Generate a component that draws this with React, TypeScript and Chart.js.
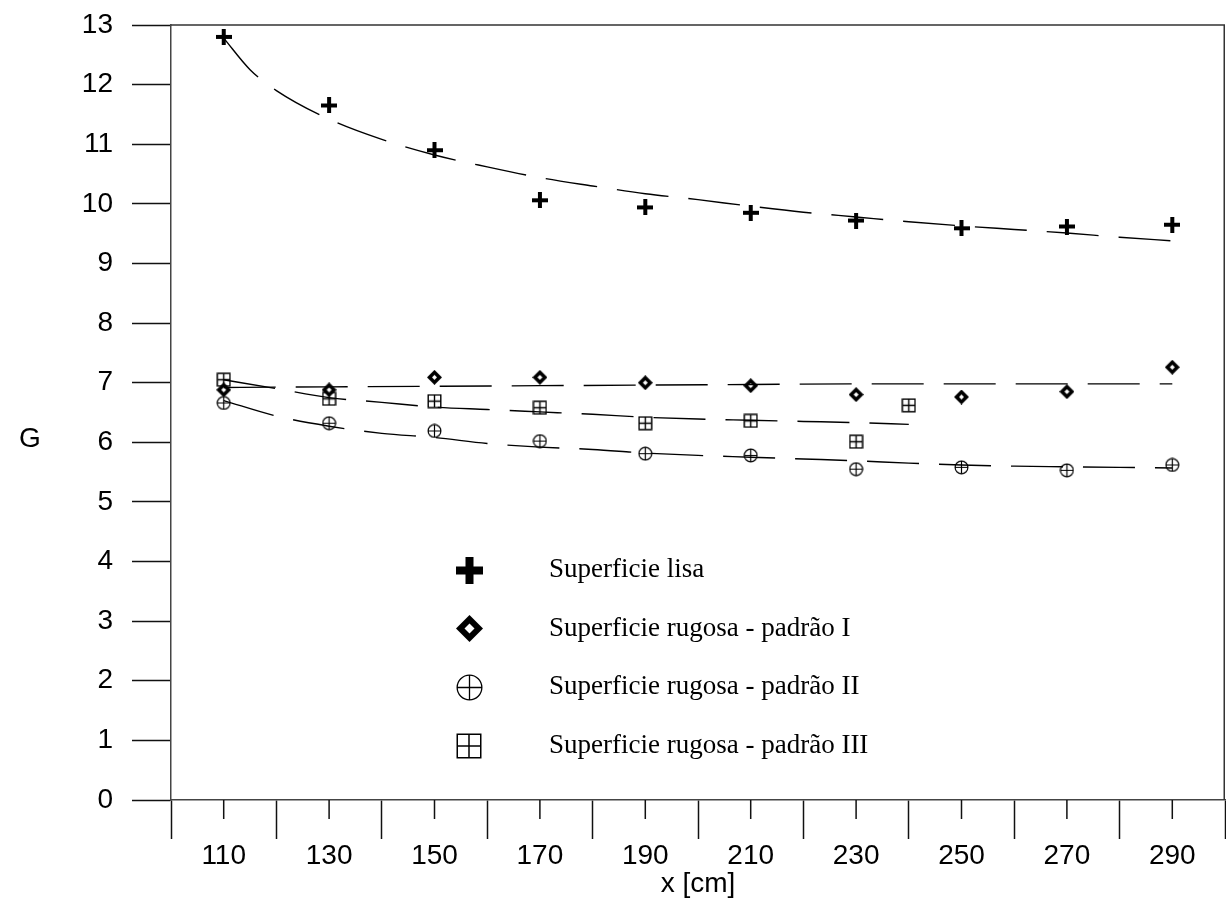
import React, { useEffect, useRef } from 'react';
import { Chart, registerables } from 'chart.js';

Chart.register(...registerables);

// ---- data ----
const xPositions = [110, 130, 150, 170, 190, 210, 230, 250, 270, 290];
const lisaValues = [12.8, 11.65, 10.9, 10.06, 9.94, 9.85, 9.72, 9.59, 9.62, 9.65];
const padraoIValues = [6.88, 6.88, 7.09, 7.09, 7.0, 6.95, 6.8, 6.76, 6.85, 7.26];
const padraoIIValues = [6.66, 6.32, 6.19, 6.02, 5.81, 5.78, 5.55, 5.58, 5.53, 5.62];
const padraoIIIX = [110, 130, 150, 170, 190, 210, 230, 240];
const padraoIIIValues = [7.05, 6.73, 6.69, 6.58, 6.32, 6.36, 6.01, 6.62];

// fitted (dashed) curves
const lisaFitX = [110, 115, 120, 130, 140, 150, 160, 170, 180, 190, 200, 210, 220, 230, 240, 250, 260, 270, 280, 290];
const lisaFit = [12.78, 12.25, 11.9, 11.42, 11.08, 10.82, 10.62, 10.44, 10.3, 10.17, 10.07, 9.96, 9.86, 9.78, 9.7, 9.63, 9.57, 9.51, 9.44, 9.38];
const padraoIFitX = [110, 130, 150, 170, 190, 210, 230, 250, 270, 290];
const padraoIFit = [6.92, 6.93, 6.94, 6.95, 6.96, 6.97, 6.98, 6.98, 6.98, 6.98];
const padraoIIFitX = [110, 120, 130, 140, 150, 160, 170, 180, 190, 200, 210, 220, 230, 240, 250, 260, 270, 280, 290];
const padraoIIFit = [6.7, 6.44, 6.27, 6.15, 6.08, 5.98, 5.92, 5.88, 5.82, 5.78, 5.75, 5.72, 5.69, 5.65, 5.62, 5.6, 5.59, 5.58, 5.57];
const padraoIIIFitX = [110, 120, 130, 140, 150, 160, 170, 180, 190, 200, 210, 220, 230, 240];
const padraoIIIFit = [7.05, 6.9, 6.75, 6.67, 6.59, 6.55, 6.51, 6.47, 6.42, 6.39, 6.37, 6.35, 6.33, 6.3];

const legendLabels = [
  'Superficie lisa',
  'Superficie rugosa - padrão I',
  'Superficie rugosa - padrão II',
  'Superficie rugosa - padrão III',
];
const yTitle = 'G';
const xTitle = 'x [cm]';

const SANS = "'Liberation Sans', Arial, sans-serif";
const SERIF = "'Liberation Serif', 'Times New Roman', serif";

function makeCanvas(size: number, draw: (c: CanvasRenderingContext2D, s: number) => void) {
  const cv = document.createElement('canvas');
  cv.width = size;
  cv.height = size;
  const c = cv.getContext('2d') as CanvasRenderingContext2D;
  draw(c, size);
  return cv;
}

function plusMarker(size: number, arm: number) {
  return makeCanvas(size, (c, s) => {
    c.fillStyle = '#000';
    c.fillRect((s - arm) / 2, 0, arm, s);
    c.fillRect(0, (s - arm) / 2, s, arm);
  });
}

function diamondMarker(size: number, hole: number) {
  return makeCanvas(size, (c, s) => {
    const h = s / 2;
    c.fillStyle = '#000';
    c.beginPath();
    c.moveTo(h, 0);
    c.lineTo(s, h);
    c.lineTo(h, s);
    c.lineTo(0, h);
    c.closePath();
    c.fill();
    c.fillStyle = '#fff';
    c.beginPath();
    c.moveTo(h, h - hole);
    c.lineTo(h + hole, h);
    c.lineTo(h, h + hole);
    c.lineTo(h - hole, h);
    c.closePath();
    c.fill();
  });
}

function circleMarker(size: number, lw: number) {
  return makeCanvas(size, (c, s) => {
    const h = s / 2;
    c.strokeStyle = '#000';
    c.lineWidth = lw;
    c.beginPath();
    c.arc(h, h, h - lw / 2 - 0.5, 0, Math.PI * 2);
    c.stroke();
    c.beginPath();
    c.moveTo(h, 1);
    c.lineTo(h, s - 1);
    c.moveTo(1, h);
    c.lineTo(s - 1, h);
    c.stroke();
  });
}

function squareMarker(size: number, lw: number) {
  return makeCanvas(size, (c, s) => {
    const h = s / 2;
    c.strokeStyle = '#000';
    c.lineWidth = lw;
    c.strokeRect(lw / 2 + 0.5, lw / 2 + 0.5, s - lw - 1, s - lw - 1);
    c.beginPath();
    c.moveTo(h, 1);
    c.lineTo(h, s - 1);
    c.moveTo(1, h);
    c.lineTo(s - 1, h);
    c.stroke();
  });
}

const pts = (xs: number[], ys: number[]) => xs.map((x, i) => ({ x, y: ys[i] }));

const zeroPadding = (s: any) => {
  s.paddingTop = 0;
  s.paddingBottom = 0;
  s.paddingLeft = 0;
  s.paddingRight = 0;
};

export default function App() {
  const ref = useRef<HTMLCanvasElement | null>(null);

  useEffect(() => {
    document.body.style.margin = '0';
    const canvas = ref.current;
    if (!canvas) return;

    const mPlus = plusMarker(16, 4);
    const mDiamond = diamondMarker(15, 2.5);
    const mCircle = circleMarker(15, 1.2);
    const mSquare = squareMarker(15, 1.4);
    const legendMarkers = [plusMarker(27, 8), diamondMarker(27, 5), circleMarker(27, 1.3), squareMarker(26, 1.5)];

    const fitStyle = {
      type: 'line' as const,
      borderColor: '#000',
      borderWidth: 1.4,
      borderDash: [52, 20],
      pointRadius: 0,
      fill: false,
      cubicInterpolationMode: 'monotone' as const,
    };
    const markStyle = (style: HTMLCanvasElement) => ({
      type: 'scatter' as const,
      pointStyle: style,
      pointRadius: 8,
      showLine: false,
      borderColor: '#000',
      backgroundColor: '#000',
    });

    const framePlugin = {
      id: 'frameAndLabels',
      afterDraw(chart: any) {
        const { ctx, chartArea, scales } = chart;
        const xs = scales.x;
        ctx.save();
        // top and right frame
        ctx.strokeStyle = '#333';
        ctx.lineWidth = 1.5;
        ctx.beginPath();
        ctx.moveTo(chartArea.left, chartArea.top);
        ctx.lineTo(chartArea.right, chartArea.top);
        ctx.moveTo(chartArea.right - 0.75, chartArea.top);
        ctx.lineTo(chartArea.right - 0.75, chartArea.bottom);
        ctx.stroke();
        // short ticks at the labelled positions
        ctx.strokeStyle = '#111';
        ctx.lineWidth = 1.5;
        ctx.beginPath();
        for (const v of xPositions) {
          const px = xs.getPixelForValue(v);
          ctx.moveTo(px, chartArea.bottom);
          ctx.lineTo(px, chartArea.bottom + 19);
        }
        ctx.stroke();
        // upright y title
        ctx.fillStyle = '#000';
        ctx.font = `28px ${SANS}`;
        ctx.textAlign = 'center';
        ctx.textBaseline = 'middle';
        ctx.fillText(yTitle, 30, (chartArea.top + chartArea.bottom) / 2 + 27);
        // legend
        const symX = chartArea.left + 298;
        const textX = chartArea.left + 378;
        const y0 = chartArea.top + 545;
        const dy = 58.7;
        ctx.font = `27px ${SERIF}`;
        ctx.textAlign = 'left';
        legendLabels.forEach((lab, i) => {
          const y = y0 + i * dy;
          const m = legendMarkers[i];
          ctx.drawImage(m, Math.round(symX - m.width / 2), Math.round(y - m.height / 2));
          ctx.fillText(lab, textX, y);
        });
        ctx.restore();
      },
    };

    const chart = new Chart(canvas, {
      type: 'scatter',
      data: {
        datasets: [
          { ...fitStyle, label: 'fit lisa', data: pts(lisaFitX, lisaFit) },
          { ...fitStyle, label: 'fit I', data: pts(padraoIFitX, padraoIFit) },
          { ...fitStyle, label: 'fit II', data: pts(padraoIIFitX, padraoIIFit) },
          { ...fitStyle, label: 'fit III', data: pts(padraoIIIFitX, padraoIIIFit) },
          { ...markStyle(mPlus), label: legendLabels[0], data: pts(xPositions, lisaValues) },
          { ...markStyle(mDiamond), label: legendLabels[1], data: pts(xPositions, padraoIValues) },
          { ...markStyle(mCircle), label: legendLabels[2], data: pts(xPositions, padraoIIValues) },
          { ...markStyle(mSquare), label: legendLabels[3], data: pts(padraoIIIX, padraoIIIValues) },
        ] as any,
      },
      options: {
        animation: false,
        responsive: false,
        devicePixelRatio: 1,
        clip: false as any,
        layout: { autoPadding: false, padding: { top: 25, right: 1, left: 0, bottom: 0 } },
        plugins: {
          legend: { display: false },
          tooltip: { enabled: false },
        },
        scales: {
          x: {
            type: 'linear',
            min: 100,
            max: 300,
            afterFit: (s: any) => {
              s.height = 104;
              zeroPadding(s);
            },
            border: { display: true, color: '#444', width: 1.5 },
            grid: {
              drawOnChartArea: false,
              drawTicks: true,
              tickLength: 39,
              tickWidth: 1.5,
              tickColor: (c: any) => (c.tick && c.tick.value % 20 === 0 ? '#111' : 'rgba(0,0,0,0)'),
            },
            ticks: {
              stepSize: 10,
              autoSkip: false,
              maxRotation: 0,
              padding: 0,
              color: '#000',
              font: { family: SANS, size: 28 },
              callback: (v: any) => (Number(v) % 20 === 10 ? String(v) : ''),
            },
            title: {
              display: true,
              text: xTitle,
              color: '#000',
              font: { family: SANS, size: 28 },
              padding: { top: 0, bottom: 3 },
            },
          },
          y: {
            type: 'linear',
            min: 0,
            max: 13,
            afterFit: (s: any) => {
              s.width = 171;
              zeroPadding(s);
            },
            border: { display: true, color: '#444', width: 1.5 },
            grid: {
              drawOnChartArea: false,
              drawTicks: true,
              tickLength: 39,
              tickWidth: 1.5,
              tickColor: '#111',
            },
            ticks: {
              stepSize: 1,
              padding: 19,
              color: '#000',
              font: { family: SANS, size: 28 },
            },
          },
        },
      } as any,
      plugins: [framePlugin],
    });

    return () => chart.destroy();
  }, []);

  return (
    <div style={{ width: 1226, height: 904, position: 'relative', background: '#fff' }}>
      <canvas ref={ref} width={1226} height={904} style={{ display: 'block' }} />
    </div>
  );
}
